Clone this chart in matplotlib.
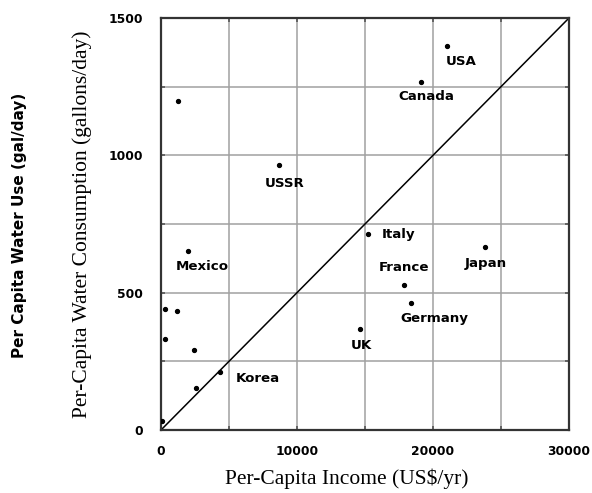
import matplotlib
matplotlib.use("Agg")
import matplotlib.pyplot as plt
import numpy as np

# data
income = [21000, 19100, 1280, 8700, 15200, 2000, 23800, 17900, 18350, 14600,
          320, 1180, 320, 2450, 4350, 2600, 80]
water = [1398, 1267, 1197, 963, 713, 653, 665, 529, 463, 368,
         439, 433, 332, 290, 212, 152, 34]
labels = ["USA", "Canada", "USSR", "Italy", "Mexico", "France", "Japan",
          "Germany", "UK", "Korea"]
label_x = [22050, 19500, 9100, 17450, 3050, 17850, 23850, 20100, 14750, 7100]
label_y = [1340, 1213, 899, 713, 597, 590, 607, 405, 306, 189]
x_ticks = [0, 10000, 20000, 30000]
y_ticks = [0, 500, 1000, 1500]

fig = plt.figure(figsize=(5.92, 4.93), dpi=100)
ax = fig.add_axes([161/592, 63/493, 408/592, 412/493])

ax.set_xlim(0, 30000)
ax.set_ylim(0, 1500)
ax.set_xticks(x_ticks)
ax.set_yticks(y_ticks)
ax.set_xticks(np.arange(0, 30001, 5000), minor=True)
ax.set_yticks(np.arange(0, 1501, 250), minor=True)
ax.grid(True, which='both', color='#a0a0a0', linewidth=1.1)
ax.set_axisbelow(True)
ax.tick_params(which='both', direction='in', length=3, width=1.2, color='#555555',
               top=True, right=True)
ax.tick_params(axis='x', labelsize=8.8, pad=11)
ax.tick_params(axis='y', labelsize=8.8, pad=13)
for lab in ax.get_xticklabels() + ax.get_yticklabels():
    lab.set_fontweight('bold')
    lab.set_family('DejaVu Sans')
for s in ax.spines.values():
    s.set_linewidth(1.6)
    s.set_color('#333333')

ax.plot([0, 30000], [0, 1500], color='black', linewidth=1.1)
ax.plot(income, water, 'o', color='black', markersize=2.8, zorder=5)

for t, lx, ly in zip(labels, label_x, label_y):
    ax.text(lx, ly, t, ha='center', va='center', fontsize=9.6, fontweight='bold',
            family='DejaVu Sans')

fig.text(347/592, 1 - 479/493, "Per-Capita Income (US$/yr)", family='Liberation Serif',
         fontsize=15.5, ha='center', va='center')
fig.text(82/592, 1 - 224/493, "Per-Capita Water Consumption (gallons/day)",
         family='Liberation Serif', fontsize=15.5, rotation=90, ha='center', va='center')
fig.text(20/592, 1 - 225/493, "Per Capita Water Use (gal/day)",
         family='DejaVu Sans', fontweight='bold', fontsize=11, rotation=90,
         ha='center', va='center')

fig.savefig("out.png", dpi=100)
